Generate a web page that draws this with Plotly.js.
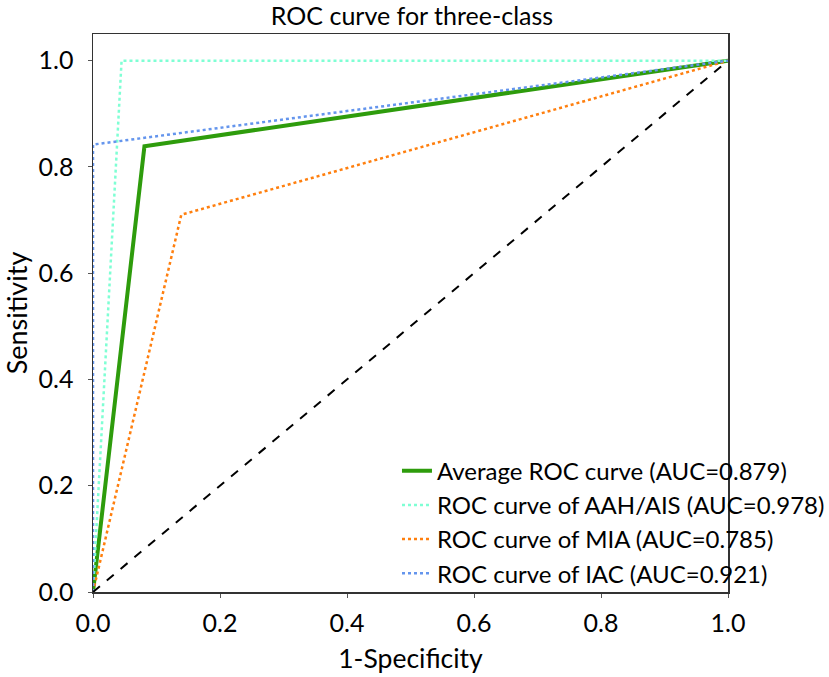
<!DOCTYPE html>
<html>
<head>
<meta charset="utf-8">
<script src="https://cdn.plot.ly/plotly-3.0.1.min.js"></script>
<style>html,body{margin:0;padding:0;background:#fff;}#chart{width:829px;height:677px;}</style>
</head>
<body>
<div id="chart"></div>
<script>
// Data
const avgFPR = [0, 0.081, 1];
const avgTPR = [0, 0.839, 1];
const aahFPR = [0, 0.045, 1];
const aahTPR = [0, 1.0, 1];
const miaFPR = [0, 0.139, 1];
const miaTPR = [0, 0.710, 1];
const iacFPR = [0, 0, 1];
const iacTPR = [0, 0.842, 1];
const diagX = [0, 1];
const diagY = [0, 1];
const names = [
  'Average ROC curve (AUC=0.879)',
  'ROC curve of AAH/AIS (AUC=0.978)',
  'ROC curve of MIA (AUC=0.785)',
  'ROC curve of IAC (AUC=0.921)'
];
const xTicks = [0, 0.2, 0.4, 0.6, 0.8, 1.0];
const xTickText = ['0.0', '0.2', '0.4', '0.6', '0.8', '1.0'];
const yTicks = [0, 0.2, 0.4, 0.6, 0.8, 1.0];
const yTickText = ['0.0', '0.2', '0.4', '0.6', '0.8', '1.0'];

const FONT = 'Lato, "Open Sans", sans-serif';

const traces = [
  {x: avgFPR, y: avgTPR, name: names[0], mode: 'lines', line: {color: '#2e9c0c', width: 4}},
  {x: aahFPR, y: aahTPR, name: names[1], mode: 'lines', line: {color: '#7fffd4', width: 2.5, dash: 'dot'}},
  {x: miaFPR, y: miaTPR, name: names[2], mode: 'lines', line: {color: '#ff7f0e', width: 2.5, dash: 'dot'}},
  {x: iacFPR, y: iacTPR, name: names[3], mode: 'lines', line: {color: '#6495ed', width: 2.5, dash: 'dot'}},
  {x: diagX, y: diagY, mode: 'lines', showlegend: false, line: {color: '#000', width: 2, dash: 'dash'}}
];

const layout = {
  width: 829, height: 677,
  margin: {l: 93, r: 101, t: 34, b: 84.5, pad: 0, autoexpand: false},
  paper_bgcolor: '#fff', plot_bgcolor: '#fff',
  font: {family: FONT, color: '#000', size: 24},
  title: {text: 'ROC curve for three-class', x: 0.497, xanchor: 'center', y: 0.9764, yanchor: 'middle', font: {size: 25, family: FONT, color: '#000'}},
  xaxis: {
    range: [0, 1], tickvals: xTicks, ticktext: xTickText,
    showgrid: false, zeroline: false, showline: true, mirror: true, linecolor: '#333', linewidth: 1.5,
    ticks: 'outside', ticklen: 4, tickcolor: '#555', tickwidth: 1, ticklabelstandoff: 4,
    tickfont: {size: 25, family: FONT},
    title: {text: '1-Specificity', font: {size: 26.5, family: FONT}, standoff: 14}
  },
  yaxis: {
    range: [0, 1.0502], tickvals: yTicks, ticktext: yTickText,
    showgrid: false, zeroline: false, showline: true, mirror: true, linecolor: '#333', linewidth: 1.5,
    ticks: 'outside', ticklen: 4, tickcolor: '#555', tickwidth: 1, ticklabelstandoff: 9,
    tickfont: {size: 25, family: FONT},
    title: {text: 'Sensitivity', font: {size: 27, family: FONT}, standoff: 3}
  },
  legend: {
    x: 0.4787, y: 0.257, xanchor: 'left', yanchor: 'top',
    bgcolor: 'rgba(0,0,0,0)', borderwidth: 0,
    itemwidth: 30, font: {size: 24, family: FONT}
  }
};

Plotly.newPlot('chart', traces, layout, {displayModeBar: false, staticPlot: true});
</script>
</body>
</html>
